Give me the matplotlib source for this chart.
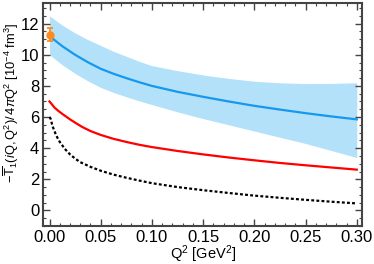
import numpy as np
import matplotlib
matplotlib.use("Agg")
import matplotlib.pyplot as plt
from matplotlib.ticker import MultipleLocator

plt.rcParams['font.family'] = ['Liberation Sans', 'DejaVu Sans']
plt.rcParams['mathtext.fontset'] = 'custom'
plt.rcParams['mathtext.rm'] = 'Liberation Sans'
plt.rcParams['mathtext.it'] = 'Liberation Sans:italic'

# values
q2_blue = [0.0, 0.0125, 0.025, 0.0375, 0.05, 0.0625, 0.075, 0.0875, 0.10,
           0.125, 0.15, 0.175, 0.20, 0.225, 0.25, 0.275, 0.30]
blue = [11.2, 10.55, 10.0, 9.52, 9.1, 8.78, 8.5, 8.24, 8.0,
        7.62, 7.3, 7.0, 6.72, 6.48, 6.25, 6.04, 5.85]
band_hi = [12.5, 11.9, 11.4, 10.97, 10.6, 10.22, 9.9, 9.58, 9.3,
           8.98, 8.7, 8.48, 8.3, 8.2, 8.15, 8.16, 8.2]
band_lo = [10.0, 9.35, 8.8, 8.32, 7.9, 7.58, 7.3, 7.04, 6.8,
           6.33, 5.9, 5.5, 5.1, 4.7, 4.3, 3.85, 3.4]

q2_red = [0.0, 0.0025, 0.005, 0.0085, 0.0125, 0.02, 0.026, 0.032, 0.04, 0.05,
          0.0625, 0.075, 0.0875, 0.10, 0.125, 0.15, 0.175, 0.20, 0.225, 0.25,
          0.275, 0.30]
red = [7.0, 6.8, 6.6, 6.4, 6.2, 5.85, 5.6, 5.36, 5.1, 4.85,
       4.6, 4.4, 4.22, 4.07, 3.82, 3.6, 3.4, 3.22, 3.05, 2.9,
       2.76, 2.62]

q2_black = [0.0, 0.001, 0.002, 0.003, 0.0045, 0.006, 0.008, 0.01, 0.015, 0.02,
            0.025, 0.03, 0.04, 0.05, 0.0625, 0.075, 0.0875, 0.10, 0.125, 0.15,
            0.175, 0.20, 0.225, 0.25, 0.275, 0.30]
black = [6.0, 5.9, 5.65, 5.4, 5.15, 4.9, 4.63, 4.4, 3.95, 3.6,
         3.33, 3.1, 2.8, 2.55, 2.3, 2.1, 1.92, 1.75, 1.5, 1.3,
         1.12, 0.95, 0.81, 0.68, 0.56, 0.45]

pt_x = [0.0]
pt_y = [11.3]
pt_err = [0.4]

fig, ax = plt.subplots(figsize=(3.74, 2.64), dpi=100)
fig.subplots_adjust(left=0.116, right=0.969, top=0.987, bottom=0.144)

ax.fill_between(q2_blue, band_lo, band_hi, color='#b3e1fa', linewidth=0)
ax.plot(q2_blue, blue, color='#1599ee', lw=1.6)
ax.plot(q2_red, red, color='#ff0000', lw=1.6)
ax.plot(q2_black, black, color='black', lw=1.6, linestyle=(0, (1.3, 1.0)))
ax.errorbar(pt_x, pt_y, yerr=pt_err, fmt='o', color='#ff8a1e', ms=5,
            capsize=2.5, elinewidth=1.3, capthick=1.3, zorder=5)

ax.set_xlim(-0.006, 0.3055)
ax.set_ylim(-1.0, 13.3)
ax.xaxis.set_major_locator(MultipleLocator(0.05))
ax.xaxis.set_minor_locator(MultipleLocator(0.01))
ax.yaxis.set_major_locator(MultipleLocator(2))
ax.yaxis.set_minor_locator(MultipleLocator(0.5))
ax.xaxis.set_major_formatter(plt.FuncFormatter(lambda v, p: f"{v:.2f}"))
ax.tick_params(which='both', direction='in', top=True, right=True,
               color='#444444', labelsize=12, pad=3)
ax.tick_params(which='major', length=5, width=1.0)
ax.tick_params(which='minor', length=2.5, width=0.8)
for s in ax.spines.values():
    s.set_linewidth(1.5)
    s.set_color('#444444')

ax.set_xlabel(r'Q$^2$ [GeV$^2$]', fontsize=10.5, labelpad=-1)
ax.set_ylabel(r'$-\overline{\mathrm{T}}_1(i\mathrm{Q},\mathrm{Q}^2)/\,4\pi\mathrm{Q}^2\ [10^{-4}\ \mathrm{fm}^3]$',
              fontsize=9.3)
ax.yaxis.set_label_coords(-0.07, 0.555)

fig.savefig("out.png", dpi=100)
